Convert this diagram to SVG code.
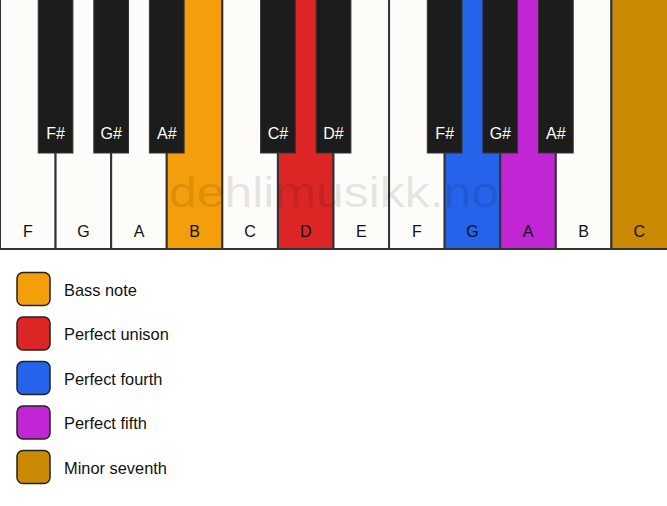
<svg xmlns="http://www.w3.org/2000/svg" width="667" height="506" viewBox="0 0 667 506">
<style>
.w{fill:#fdfcf9;stroke:#333;stroke-width:2}
.b{fill:#1c1c1c;stroke:#333;stroke-width:1}
.lw{font-family:"Liberation Sans",Arial,sans-serif;font-size:16px;fill:#111;text-anchor:middle}
.lb{font-family:"Liberation Sans",Arial,sans-serif;font-size:16px;fill:#fff;text-anchor:middle}
.leg{stroke:#222;stroke-width:1.5}
.lt{font-family:"Liberation Sans",Arial,sans-serif;font-size:16.4px;fill:#111}
</style>
<rect width="667" height="506" fill="#ffffff"/>
<g id="white-keys">
<g id="key-F1"><rect class="w" x="0" y="-2" width="55.58" height="251"/><text class="lw" x="27.8" y="237">F</text></g>
<g id="key-G1"><rect class="w" x="55.58" y="-2" width="55.58" height="251"/><text class="lw" x="83.4" y="237">G</text></g>
<g id="key-A1"><rect class="w" x="111.17" y="-2" width="55.58" height="251"/><text class="lw" x="139" y="237">A</text></g>
<g id="key-B1"><rect class="w" x="166.75" y="-2" width="55.58" height="251" style="fill:#f59e0b"/><text class="lw" x="194.5" y="237">B</text></g>
<g id="key-C1"><rect class="w" x="222.33" y="-2" width="55.58" height="251"/><text class="lw" x="250.1" y="237">C</text></g>
<g id="key-D1"><rect class="w" x="277.92" y="-2" width="55.58" height="251" style="fill:#dc2626"/><text class="lw" x="305.7" y="237">D</text></g>
<g id="key-E1"><rect class="w" x="333.5" y="-2" width="55.58" height="251"/><text class="lw" x="361.3" y="237">E</text></g>
<g id="key-F2"><rect class="w" x="389.08" y="-2" width="55.58" height="251"/><text class="lw" x="416.9" y="237">F</text></g>
<g id="key-G2"><rect class="w" x="444.67" y="-2" width="55.58" height="251" style="fill:#2563eb"/><text class="lw" x="472.5" y="237">G</text></g>
<g id="key-A2"><rect class="w" x="500.25" y="-2" width="55.58" height="251" style="fill:#c026d3"/><text class="lw" x="528" y="237">A</text></g>
<g id="key-B2"><rect class="w" x="555.83" y="-2" width="55.58" height="251"/><text class="lw" x="583.6" y="237">B</text></g>
<g id="key-C2"><rect class="w" x="611.42" y="-2" width="57" height="251" style="fill:#ca8a04"/><text class="lw" x="639.2" y="237">C</text></g>
</g>
<text x="169" y="206.5" font-family="'Liberation Sans',Arial,sans-serif" font-size="42" fill="#000" fill-opacity="0.11" textLength="330" lengthAdjust="spacingAndGlyphs">dehlimusikk.no</text>
<g id="black-keys">
<g id="key-Fs1"><rect class="b" x="38.2" y="-2" width="34.7" height="155"/><text class="lb" x="55.6" y="139">F#</text></g>
<g id="key-Gs1"><rect class="b" x="93.8" y="-2" width="34.7" height="155"/><text class="lb" x="111.2" y="139">G#</text></g>
<g id="key-As1"><rect class="b" x="149.4" y="-2" width="34.7" height="155"/><text class="lb" x="166.8" y="139">A#</text></g>
<g id="key-Cs1"><rect class="b" x="260.6" y="-2" width="34.7" height="155"/><text class="lb" x="277.9" y="139">C#</text></g>
<g id="key-Ds1"><rect class="b" x="316.2" y="-2" width="34.7" height="155"/><text class="lb" x="333.5" y="139">D#</text></g>
<g id="key-Fs2"><rect class="b" x="427.3" y="-2" width="34.7" height="155"/><text class="lb" x="444.7" y="139">F#</text></g>
<g id="key-Gs2"><rect class="b" x="482.9" y="-2" width="34.7" height="155"/><text class="lb" x="500.3" y="139">G#</text></g>
<g id="key-As2"><rect class="b" x="538.5" y="-2" width="34.7" height="155"/><text class="lb" x="555.8" y="139">A#</text></g>
</g>
<g id="legend">
<g id="leg-bass"><rect class="leg" x="17" y="272.5" width="33" height="33" rx="6" fill="#f59e0b"/><text class="lt" x="64" y="295.5">Bass note</text></g>
<g id="leg-unison"><rect class="leg" x="17" y="317" width="33" height="33" rx="6" fill="#dc2626"/><text class="lt" x="64" y="340">Perfect unison</text></g>
<g id="leg-fourth"><rect class="leg" x="17" y="361.5" width="33" height="33" rx="6" fill="#2563eb"/><text class="lt" x="64" y="384.5">Perfect fourth</text></g>
<g id="leg-fifth"><rect class="leg" x="17" y="406" width="33" height="33" rx="6" fill="#c026d3"/><text class="lt" x="64" y="429">Perfect fifth</text></g>
<g id="leg-seventh"><rect class="leg" x="17" y="450.5" width="33" height="33" rx="6" fill="#ca8a04"/><text class="lt" x="64" y="473.5">Minor seventh</text></g>
</g>
</svg>
